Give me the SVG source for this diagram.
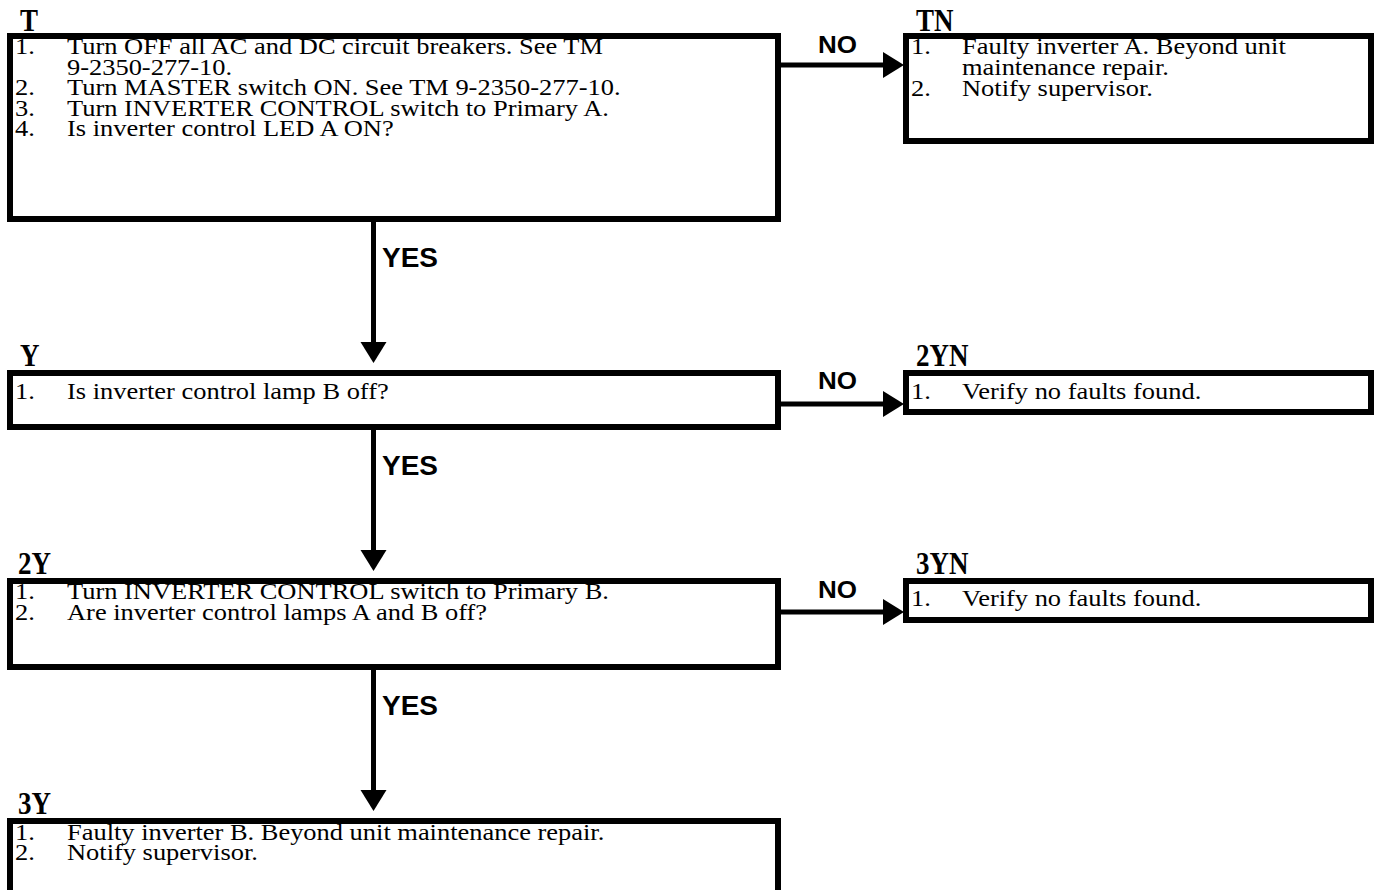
<svg xmlns="http://www.w3.org/2000/svg" width="1377" height="890" viewBox="0 0 1377 890">
  <style>
    .box { fill: #fff; stroke: #000; stroke-width: 6; }
    .body { font-family: "Liberation Serif", "Times New Roman", serif; font-size: 23px; fill: #000; }
    .tag { font-family: "Liberation Serif", "Times New Roman", serif; font-size: 27px; font-weight: bold; fill: #000; }
    .cond { font-family: "Liberation Sans", Arial, Helvetica, sans-serif; font-weight: bold; fill: #000; }
    .link { stroke: #000; stroke-width: 5; fill: none; }
  </style>
  <defs>
    <marker id="head" markerUnits="userSpaceOnUse" markerWidth="22" markerHeight="28" refX="0" refY="13" orient="auto" overflow="visible">
      <path d="M0,0 L21,13 L0,26 Z" fill="#000"/>
    </marker>
  </defs>
  <rect width="1377" height="890" fill="#fff"/>

  <!-- connectors -->
  <g id="connectors">
    <path class="link" d="M781,65 H883" marker-end="url(#head)"/>
    <text class="cond" x="818" y="53" font-size="24" textLength="39" lengthAdjust="spacingAndGlyphs">NO</text>
    <path class="link" d="M373.5,222 V342" marker-end="url(#head)"/>
    <text class="cond" x="382" y="267" font-size="28">YES</text>

    <path class="link" d="M781,404 H883" marker-end="url(#head)"/>
    <text class="cond" x="818" y="389" font-size="24" textLength="39" lengthAdjust="spacingAndGlyphs">NO</text>
    <path class="link" d="M373.5,430 V550" marker-end="url(#head)"/>
    <text class="cond" x="382" y="475" font-size="28">YES</text>

    <path class="link" d="M781,612 H883" marker-end="url(#head)"/>
    <text class="cond" x="818" y="598" font-size="24" textLength="39" lengthAdjust="spacingAndGlyphs">NO</text>
    <path class="link" d="M373.5,670 V790" marker-end="url(#head)"/>
    <text class="cond" x="382" y="715" font-size="28">YES</text>
  </g>

  <!-- step T -->
  <g id="node-T">
    <text class="tag" transform="translate(20 31) scale(1 1.15)">T</text>
    <rect class="box" x="10" y="36" width="768" height="183"/>
    <g class="body" transform="translate(15 0) scale(1.15 1)">
      <text y="54.5">1.</text>
      <text y="95.5">2.</text>
      <text y="116">3.</text>
      <text y="136.5">4.</text>
    </g>
    <g class="body" transform="translate(67 0) scale(1.15 1)">
      <text y="54.5">Turn OFF all AC and DC circuit breakers. See TM</text>
      <text y="75">9-2350-277-10.</text>
      <text y="95.5">Turn MASTER switch ON. See TM 9-2350-277-10.</text>
      <text y="116">Turn INVERTER CONTROL switch to Primary A.</text>
      <text y="136.5">Is inverter control LED A ON?</text>
    </g>
  </g>

  <!-- step TN -->
  <g id="node-TN">
    <text class="tag" transform="translate(916 31) scale(1 1.15)">TN</text>
    <rect class="box" x="906" y="36" width="465" height="105"/>
    <g class="body" transform="translate(911 0) scale(1.15 1)">
      <text y="54.5">1.</text>
      <text y="96">2.</text>
    </g>
    <g class="body" transform="translate(962 0) scale(1.15 1)">
      <text y="54.5">Faulty inverter A. Beyond unit</text>
      <text y="75.5">maintenance repair.</text>
      <text y="96">Notify supervisor.</text>
    </g>
  </g>

  <!-- step Y -->
  <g id="node-Y">
    <text class="tag" transform="translate(20 366) scale(1 1.15)">Y</text>
    <rect class="box" x="10" y="373" width="768" height="54"/>
    <g class="body" transform="translate(15 0) scale(1.15 1)">
      <text y="399">1.</text>
    </g>
    <g class="body" transform="translate(67 0) scale(1.15 1)">
      <text y="399">Is inverter control lamp B off?</text>
    </g>
  </g>

  <!-- step 2YN -->
  <g id="node-2YN">
    <text class="tag" transform="translate(916 366) scale(1 1.15)">2YN</text>
    <rect class="box" x="906" y="373" width="465" height="39"/>
    <g class="body" transform="translate(911 0) scale(1.15 1)">
      <text y="399">1.</text>
    </g>
    <g class="body" transform="translate(962 0) scale(1.15 1)">
      <text y="399">Verify no faults found.</text>
    </g>
  </g>

  <!-- step 2Y -->
  <g id="node-2Y">
    <text class="tag" transform="translate(18 574) scale(1 1.15)">2Y</text>
    <rect class="box" x="10" y="581" width="768" height="86"/>
    <g class="body" transform="translate(15 0) scale(1.15 1)">
      <text y="599.5">1.</text>
      <text y="620">2.</text>
    </g>
    <g class="body" transform="translate(67 0) scale(1.15 1)">
      <text y="599.5">Turn INVERTER CONTROL switch to Primary B.</text>
      <text y="620">Are inverter control lamps A and B off?</text>
    </g>
  </g>

  <!-- step 3YN -->
  <g id="node-3YN">
    <text class="tag" transform="translate(916 574) scale(1 1.15)">3YN</text>
    <rect class="box" x="906" y="581" width="465" height="39"/>
    <g class="body" transform="translate(911 0) scale(1.15 1)">
      <text y="606">1.</text>
    </g>
    <g class="body" transform="translate(962 0) scale(1.15 1)">
      <text y="606">Verify no faults found.</text>
    </g>
  </g>

  <!-- step 3Y -->
  <g id="node-3Y">
    <text class="tag" transform="translate(18 814) scale(1 1.15)">3Y</text>
    <rect class="box" x="10" y="821" width="768" height="100"/>
    <g class="body" transform="translate(15 0) scale(1.15 1)">
      <text y="840">1.</text>
      <text y="860.5">2.</text>
    </g>
    <g class="body" transform="translate(67 0) scale(1.15 1)">
      <text y="840">Faulty inverter B. Beyond unit maintenance repair.</text>
      <text y="860.5">Notify supervisor.</text>
    </g>
  </g>
</svg>
